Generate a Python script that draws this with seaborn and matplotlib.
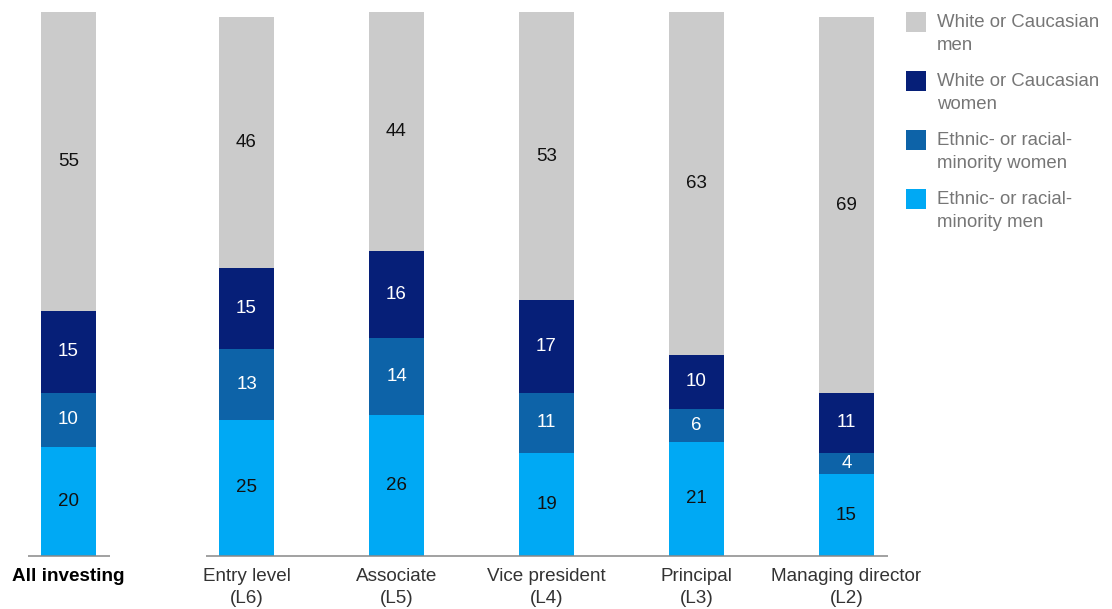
import matplotlib
matplotlib.use("Agg")
import matplotlib.pyplot as plt
from matplotlib.patches import Rectangle
import numpy as np
import pandas as pd
import seaborn as sns

# Share of investing professionals by level, % (bottom to top of each bar)
categories = ["All investing", "Entry level\n(L6)", "Associate\n(L5)",
              "Vice president\n(L4)", "Principal\n(L3)", "Managing director\n(L2)"]
minority_men = [20, 25, 26, 19, 21, 15]
minority_women = [10, 13, 14, 11, 6, 4]
white_women = [15, 15, 16, 17, 10, 11]
white_men = [55, 46, 44, 53, 63, 69]

series_names = ["Ethnic- or racial-\nminority men", "Ethnic- or racial-\nminority women",
                "White or Caucasian\nwomen", "White or Caucasian\nmen"]
series_values = [minority_men, minority_women, white_women, white_men]
colors = ["#00a9f4", "#0d63a8", "#061f78", "#cbcbcb"]
text_colors = ["#111111", "white", "white", "#111111"]

sns.set_theme(style="white")
plt.rcParams["font.family"] = ["Liberation Sans", "DejaVu Sans"]

W, H = 1112, 609
fig = plt.figure(figsize=(W / 100, H / 100), dpi=100)

# the first bar stands apart from the five levels
step_px = 150
first_px = 68.5
gap = (246.5 - first_px) / step_px
pos = np.array([0.0] + [gap + i for i in range(5)])

ax = fig.add_axes([0, 53 / H, 890 / W, 544 / H])

cum = np.cumsum(np.array(series_values), axis=0)
# draw from the tallest cumulative stack down so each layer covers the one beneath
for k in range(len(series_values) - 1, -1, -1):
    df = pd.DataFrame({"x": pos, "y": cum[k]})
    sns.barplot(data=df, x="x", y="y", native_scale=True, color=colors[k],
                width=55 / step_px, linewidth=0, saturation=1, ax=ax)

# value labels in the middle of each segment
for k in range(len(series_values)):
    bottoms = cum[k] - np.array(series_values[k])
    for i, v in enumerate(series_values[k]):
        ax.text(pos[i], bottoms[i] + v / 2, str(v), ha="center", va="center",
                fontsize=13.5, color=text_colors[k])

ax.set_xlim((0 - first_px) / step_px, (890 - first_px) / step_px)
ax.set_ylim(0, 100)
for s in ax.spines.values():
    s.set_visible(False)
ax.set_yticks([])
ax.set_xlabel("")
ax.set_ylabel("")

# baselines: one under the overall bar, one under the levels
half = 41 / step_px
ax.plot([pos[0] - half, pos[0] + half], [0, 0], color="#888888", lw=1.1,
        clip_on=False, solid_capstyle="butt")
ax.plot([pos[1] - half, pos[-1] + half], [0, 0], color="#888888", lw=1.1,
        clip_on=False, solid_capstyle="butt")

ax.set_xticks(pos)
ax.set_xticklabels(categories, fontsize=13.6, color="#333333", linespacing=1.42)
ax.tick_params(axis="x", length=0, pad=8.5)
first = ax.get_xticklabels()[0]
first.set_fontweight("bold")
first.set_color("#000000")

# legend, top item first
legend_tops = [12, 71, 130, 189]
for j, k in enumerate([3, 2, 1, 0]):
    y = legend_tops[j]
    fig.add_artist(Rectangle((906 / W, (H - y - 20) / H), 20 / W, 20 / H,
                             transform=fig.transFigure, color=colors[k], lw=0))
    fig.text(937 / W, (H - y - 2) / H, series_names[k], ha="left", va="top",
             fontsize=13.4, color="#767676", linespacing=1.45)

fig.savefig("out.png", dpi=100)
